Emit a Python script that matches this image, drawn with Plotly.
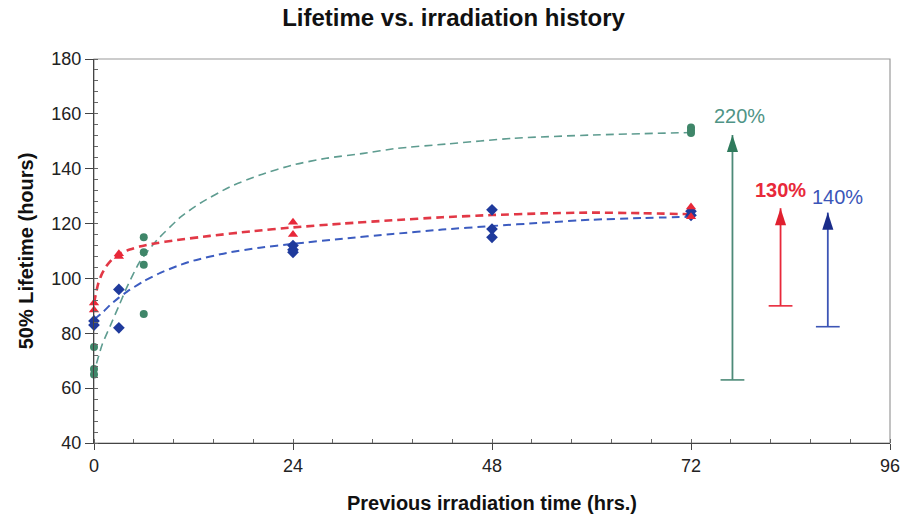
import plotly.graph_objects as go

# ---- measured points ----
green_x = [0, 0, 0, 6, 6, 6, 6, 72, 72, 72]
green_y = [75, 67, 65, 115, 109.5, 105, 87, 155, 154, 153]
red_x = [0, 0, 3, 3, 24, 24, 72, 72]
red_y = [91, 88.5, 109, 108, 120.5, 116, 126, 122.5]
blue_x = [0, 0, 3, 3, 24, 24, 24, 48, 48, 48, 72, 72]
blue_y = [84.5, 83, 96, 82, 112, 110.5, 109.5, 125, 118, 115, 124.5, 123]

# ---- trend curves ----
green_fit_x = [0.3, 1, 2, 3, 4, 5.5, 7.6, 10.5, 12.8, 16.4, 20, 24, 28, 32.5, 36.5, 42.5, 50.6, 60.2, 72]
green_fit_y = [69, 76, 83, 90, 97, 106, 114, 122.5, 127.4, 133.4, 137.7, 141.4, 143.8, 145.6, 147.4, 149, 151.1, 152.3, 153.2]
red_fit_x = [0, 0.2, 0.5, 0.9, 1.5, 2.2, 3, 4, 5.5, 7, 10, 14, 19, 24, 30, 36, 42, 48, 54, 60, 66, 72]
red_fit_y = [91, 94, 98, 101.3, 104.5, 107, 108.8, 110.2, 111.6, 112.6, 114, 115.5, 117.2, 118.6, 120, 121.2, 122.3, 123.1, 123.7, 124, 123.8, 123.4]
blue_fit_x = [0, 1, 2, 3, 4, 6, 8, 10, 12, 16, 20, 24, 30, 36, 42, 48, 54, 60, 66, 72]
blue_fit_y = [85, 87.5, 90.5, 93, 95.2, 99, 102, 104.5, 106.5, 109.3, 111.2, 112.6, 114.5, 116.2, 117.8, 119.1, 120.3, 121.4, 122, 122.5]

# ---- improvement arrows ----
arrow_names = ["220%", "130%", "140%"]
arrow_x = [77, 82.8, 88.5]
arrow_from = [63, 90, 82.4]
arrow_to = [152.3, 125.6, 124]
label_x = [77.9, 82.8, 89.7]
label_y = [159.2, 132.2, 129.6]

x_ticks = [0, 24, 48, 72, 96]
y_ticks = [40, 60, 80, 100, 120, 140, 160, 180]

GREEN_M = "#3f8669"
GREEN_L = "#5e9c90"
RED_M = "#e82839"
RED_L = "#e23846"
BLUE_M = "#1f3a9c"
BLUE_L = "#3c5cc0"
FONT = "Liberation Sans, Arial"

fig = go.Figure()

# trend lines
for fx, fy, col, w in [(green_fit_x, green_fit_y, GREEN_L, 1.6),
                       (blue_fit_x, blue_fit_y, BLUE_L, 2.0),
                       (red_fit_x, red_fit_y, RED_L, 2.6)]:
    fig.add_trace(go.Scatter(x=fx, y=fy, mode="lines",
                             line=dict(color=col, width=w, dash="8px,5px", shape="spline", smoothing=0.6),
                             hoverinfo="skip", showlegend=False))

# data points
fig.add_trace(go.Scatter(x=green_x, y=green_y, mode="markers", cliponaxis=False,
                         marker=dict(symbol="circle", size=8, color=GREEN_M), showlegend=False))
fig.add_trace(go.Scatter(x=blue_x, y=blue_y, mode="markers", cliponaxis=False,
                         marker=dict(symbol="diamond", size=9, color=BLUE_M), showlegend=False))
fig.add_trace(go.Scatter(x=red_x, y=red_y, mode="markers", cliponaxis=False,
                         marker=dict(symbol="triangle-up", size=9, color=RED_M), showlegend=False))

# arrows
arrow_line_cols = ["#4d8a78", "#e8283a", "#3c55b5"]
arrow_head_cols = ["#2f7a5c", "#e0202f", "#1a2c8a"]
label_cols = ["#4f9486", "#e8293a", "#3a55b8"]
label_bold = [False, True, False]
for i in range(len(arrow_x)):
    fig.add_trace(go.Scatter(x=[arrow_x[i], arrow_x[i]], y=[arrow_from[i], arrow_to[i]],
                             mode="lines", line=dict(color=arrow_line_cols[i], width=1.8),
                             cliponaxis=False, showlegend=False, hoverinfo="skip"))
    fig.add_trace(go.Scatter(x=[arrow_x[i]], y=[arrow_from[i]], mode="markers", cliponaxis=False,
                             marker=dict(symbol="line-ew", size=17,
                                         line=dict(color=arrow_line_cols[i], width=1.6)),
                             showlegend=False, hoverinfo="skip"))
    fig.add_trace(go.Scatter(x=[arrow_x[i]], y=[arrow_to[i]], mode="markers", cliponaxis=False,
                             marker=dict(symbol="arrow", size=18, color=arrow_head_cols[i], line=dict(width=0)),
                             showlegend=False, hoverinfo="skip"))
    txt = arrow_names[i]
    if label_bold[i]:
        txt = "<b>" + txt + "</b>"
    fig.add_annotation(x=label_x[i], y=label_y[i], text=txt, showarrow=False,
                       font=dict(family=FONT, size=20, color=label_cols[i]))

fig.update_layout(
    width=907, height=518,
    margin=dict(l=94, r=17, t=59, b=75),
    paper_bgcolor="white", plot_bgcolor="white",
    title=dict(text="<b>Lifetime vs. irradiation history</b>", x=0.5, xanchor="center",
               y=1 - 18 / 518, yref="container", yanchor="middle",
               font=dict(family=FONT, size=24, color="#111")),
    font=dict(family=FONT, color="#222"),
    shapes=[dict(type="rect", xref="paper", yref="paper", x0=0, y0=0, x1=1, y1=1,
                 line=dict(color="#9a9a9a", width=1.2), layer="below")],
)

fig.update_xaxes(range=[0, 96], tickvals=x_ticks, ticktext=[str(v) for v in x_ticks],
                 automargin=False,
                 showgrid=False, zeroline=False, showline=True, linecolor="#444", linewidth=1.2,
                 ticks="outside", ticklen=6, tickcolor="#444",
                 tickfont=dict(size=18, color="#222"),
                 minor=dict(dtick=4.8, tick0=0, ticks="inside", ticklen=4, tickcolor="#666", showgrid=False),
                 title=dict(text="<b>Previous irradiation time (hrs.)</b>", standoff=21,
                            font=dict(size=20, color="#111")))
fig.update_yaxes(range=[40, 180], tickvals=y_ticks, ticktext=[str(v) for v in y_ticks],
                 automargin=False,
                 showgrid=False, zeroline=False, showline=True, linecolor="#444", linewidth=1.2,
                 ticks="outside", ticklen=8, tickcolor="#444",
                 tickfont=dict(size=18, color="#222"),
                 minor=dict(dtick=4, tick0=0, ticks="inside", ticklen=4, tickcolor="#666", showgrid=False),
                 title=dict(text="<b>50% Lifetime (hours)</b>", standoff=12,
                            font=dict(size=20, color="#111")))

fig.write_html("out.html")
